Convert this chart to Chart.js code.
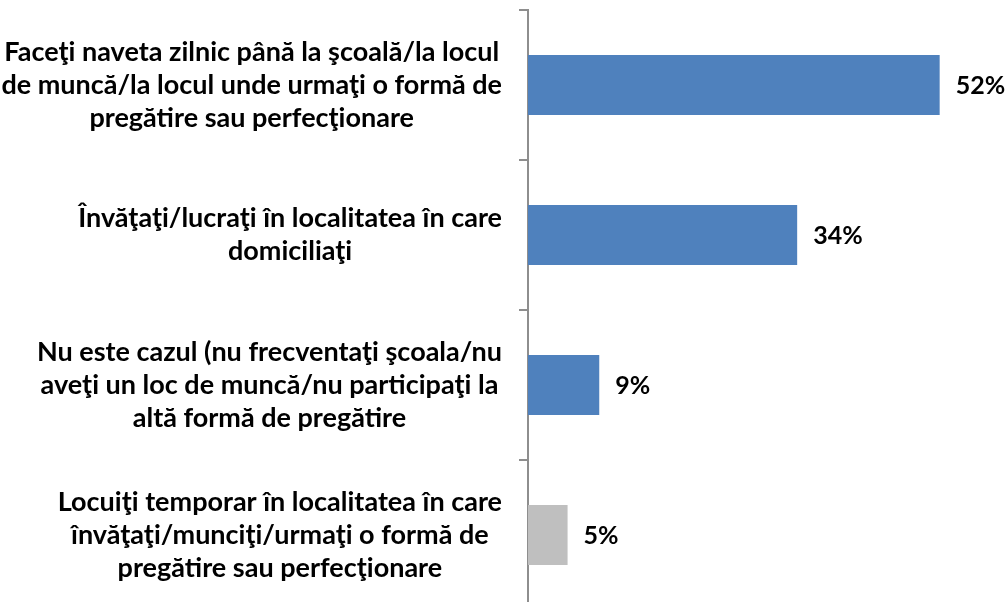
<!DOCTYPE html>
<html>
<head>
<meta charset="utf-8">
<script src="https://cdn.jsdelivr.net/npm/chart.js@4.4.0/dist/chart.umd.min.js"></script>
<style>
  html, body { margin: 0; padding: 0; background: #fff; overflow: hidden; }
  #wrap { position: absolute; left: 0; top: 0; width: 1008px; height: 620px; }
</style>
</head>
<body>
<div id="wrap"><canvas id="grafico"></canvas></div>
<script>
const categorii = [
    ["Faceţi naveta zilnic până la şcoală/la locul", "de muncă/la locul unde urmaţi o formă de", "pregătire sau perfecţionare"],
    ["Învăţaţi/lucraţi în localitatea în care", "domiciliaţi"],
    ["Nu este cazul (nu frecventaţi şcoala/nu", "aveţi un loc de muncă/nu participaţi la", "altă formă de pregătire"],
    ["Locuiţi temporar în localitatea în care", "învăţaţi/munciţi/urmaţi o formă de", "pregătire sau perfecţionare"]
];
const valori = [52, 34, 9, 5];
const culori = ["#4F81BD", "#4F81BD", "#4F81BD", "#BFBFBF"];

const fontText = "bold 27px Lato";
const fontProcent = "bold 25px Lato";

// etichete categorii (centrate pe rand, aliniate la dreapta ca bloc) + procente
const etichete = {
    id: "etichete",
    afterDraw(chart) {
        const ctx = chart.ctx;
        const yScale = chart.scales.y;
        const meta = chart.getDatasetMeta(0);
        ctx.save();
        ctx.font = fontText;
        ctx.fillStyle = "#000";
        ctx.textBaseline = "middle";
        ctx.textAlign = "center";
        const lineH = 33;
        const dreapta = 502;
        categorii.forEach((linii, i) => {
            const yc = yScale.getPixelForValue(i);
            const maxW = Math.max(...linii.map(l => ctx.measureText(l).width));
            const xc = dreapta - maxW / 2;
            const y0 = yc - (linii.length - 1) * lineH / 2;
            linii.forEach((l, k) => ctx.fillText(l, xc, y0 + k * lineH));
        });
        ctx.font = fontProcent;
        ctx.textAlign = "left";
        meta.data.forEach((bar, i) => {
            ctx.fillText(valori[i] + "%", bar.x + 16, bar.y + 1);
        });
        ctx.restore();
    }
};

new Chart(document.getElementById("grafico").getContext("2d"), {
    type: "bar",
    data: {
        labels: categorii.map(c => c.join(" ")),
        datasets: [{
            data: valori,
            backgroundColor: culori,
            borderWidth: 0,
            barPercentage: 0.4,
            categoryPercentage: 1
        }]
    },
    options: {
        indexAxis: "y",
        responsive: true,
        maintainAspectRatio: false,
        animation: false,
        layout: { padding: { left: 519, right: 5, top: 10, bottom: 10 } },
        plugins: {
            legend: { display: false },
            tooltip: { enabled: false }
        },
        scales: {
            x: { display: false, min: 0, max: 60 },
            y: {
                ticks: { display: false },
                grid: { drawOnChartArea: false, drawTicks: true, tickLength: 9, color: "#8e8e8e", lineWidth: 2 },
                border: { color: "#8e8e8e", width: 2 }
            }
        }
    },
    plugins: [etichete]
});
</script>
</body>
</html>
